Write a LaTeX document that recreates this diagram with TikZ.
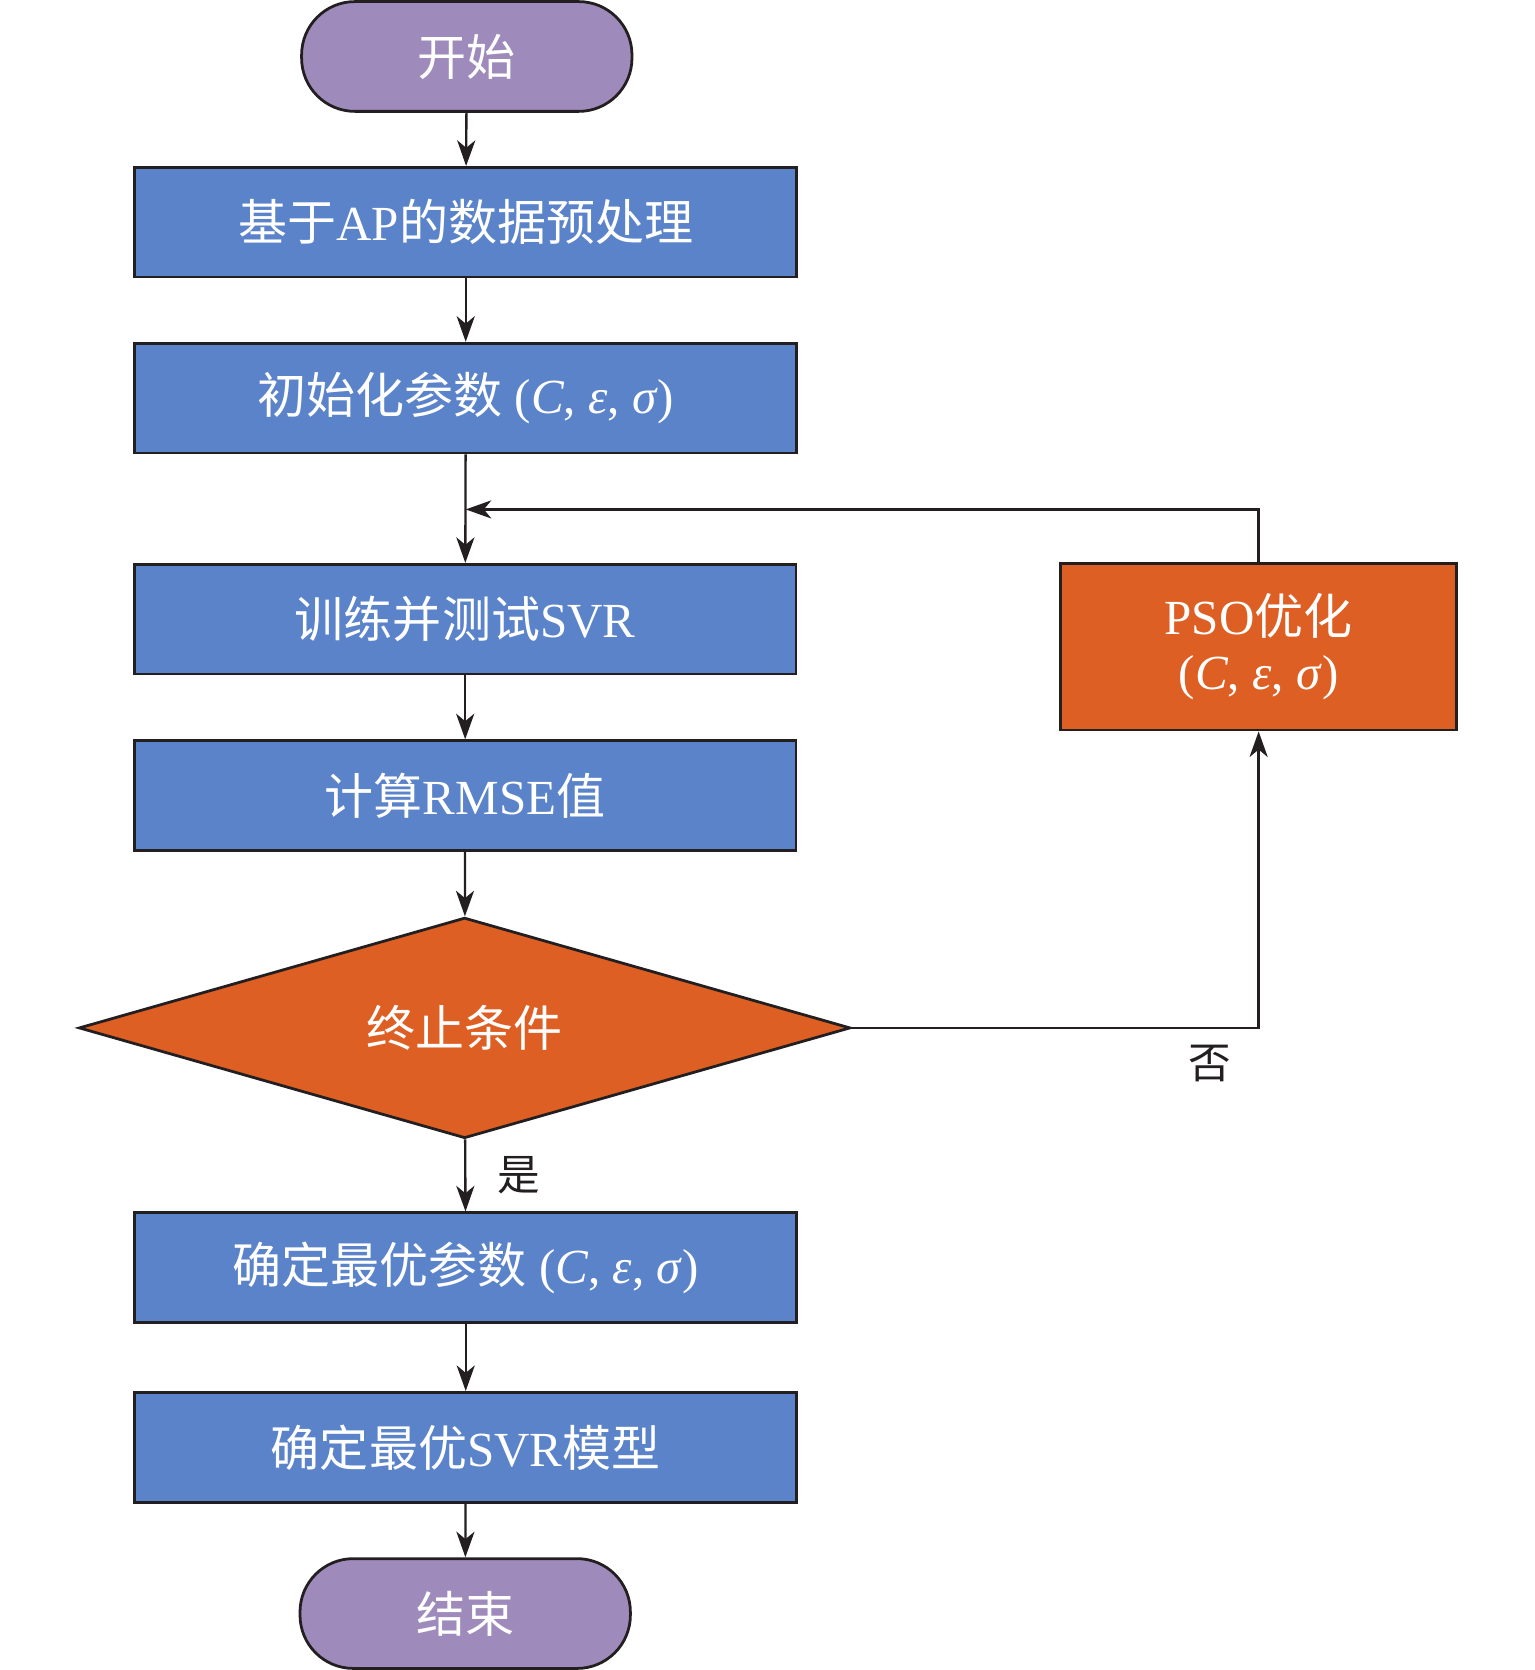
\documentclass[tikz,border=0pt]{standalone}
\usepackage{fontspec}
\setmainfont{Liberation Serif}
\newfontfamily\cjk{Noto Sans CJK SC}
\newcommand{\zh}[1]{{\cjk #1}}
\newcommand{\prm}{(\textit{C}, \textit{ε}, \textit{σ})}
\usetikzlibrary{arrows.meta,shapes.geometric}
\definecolor{termc}{HTML}{9E8BBC}
\definecolor{boxc}{HTML}{5A83CA}
\definecolor{orc}{HTML}{DE5F24}
\definecolor{edgec}{HTML}{231F20}
\begin{document}
\begin{tikzpicture}[x=1pt,y=-1pt,
  base/.style={draw=edgec, line width=2.6pt, text=white, font=\fontsize{46}{54}\selectfont, inner sep=0pt},
  term/.style={base, fill=termc, rectangle, rounded corners=50pt, minimum width=310pt, minimum height=103pt},
  stepbox/.style={base, fill=boxc, rectangle, minimum width=621pt, minimum height=103pt},
  psobox/.style={base, fill=orc, rectangle, minimum width=372pt, minimum height=156pt, align=center},
  decide/.style={base, fill=orc, diamond, aspect=3.5, minimum width=724pt, minimum height=207pt},
  arr/.style={draw=edgec, line width=2.2pt, -{Stealth[length=24pt,width=17pt,inset=7pt]}},
  lab/.style={font=\fontsize{40}{48}\selectfont, text=edgec, inner sep=0pt}
]
\useasboundingbox (0,0) rectangle (1440,1567);
\node[term] (start) at (438,53) {\zh{开始}};
\node[stepbox] (b1) at (437,208.5) {\zh{基于}AP\zh{的数据预处理}};
\node[stepbox] (b2) at (437,373.5) {\zh{初始化参数} \prm};
\node[stepbox] (b3) at (436.5,581) {\zh{训练并测试}SVR};
\node[stepbox] (b4) at (436.5,746.5) {\zh{计算}RMSE\zh{值}};
\node[decide] (dec) at (436,964.5) {\zh{终止条件}};
\node[stepbox] (b5) at (437,1189.5) {\zh{确定最优参数} \prm};
\node[stepbox] (b6) at (437,1358) {\zh{确定最优}SVR\zh{模型}};
\node[term] (end) at (436.5,1514) {\zh{结束}};
\node[psobox] (pso) at (1181,607) {PSO\zh{优化}\\[-2pt]\prm};
\coordinate (merge) at (437,478);
\node[lab] (yes) at (487,1103) {\zh{是}};
\node[lab] (no) at (1135,998) {\zh{否}};
\draw[arr] (start) -- (b1);
\draw[arr] (b1) -- (b2);
\draw[arr] (b2) -- (b3);
\draw[arr] (b3) -- (b4);
\draw[arr] (b4) -- (dec);
\draw[arr] (dec) -- (b5);
\draw[arr] (b5) -- (b6);
\draw[arr] (b6) -- (end);
\draw[arr] (dec.east) -| (pso.south);
\draw[arr] (pso.north) |- (merge);
\end{tikzpicture}
\end{document}
